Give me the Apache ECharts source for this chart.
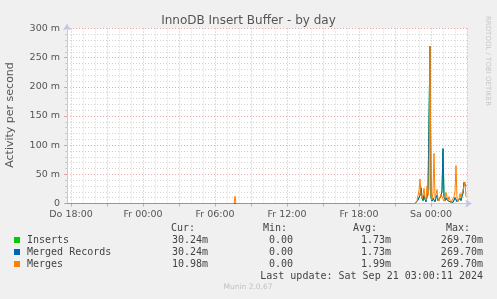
<!DOCTYPE html>
<html><head><meta charset="utf-8">
<script src="https://cdn.jsdelivr.net/npm/echarts@6/dist/echarts.min.js"></script>
<style>html,body{margin:0;padding:0;background:#f0f0f0}#c{width:497px;height:299px}</style>
</head><body><div id="c"></div><script>
// ---- text ----
const chartTitle = 'InnoDB Insert Buffer - by day';
const yAxisTitle = 'Activity per second';
const sideText = 'RRDTOOL / TOBI OETIKER';
const footerText = 'Munin 2.0.67';
const lastUpdate = 'Last update: Sat Sep 21 03:00:11 2024';

// ---- x axis (minutes since Do 00:00) ----
const xMin = 1060;   // Do 17:40
const xMax = 3060;   // Sa 03:00
const xLabelMinutes = [1080, 1440, 1800, 2160, 2520, 2880];
const xLabels = ['Do 18:00', 'Fr 00:00', 'Fr 06:00', 'Fr 12:00', 'Fr 18:00', 'Sa 00:00'];
const xMajorStep = 180; // 3 h grid
const xMinorStep = 60;  // 1 h grid

// ---- y axis ----
const yMax = 300;
const yStep = 50;

// ---- series ----
const seriesNames = ['Inserts', 'Merged Records', 'Merges'];
const seriesColors = ['#00CC00', '#0066B3', '#FF8000'];

const stepMinutes = 5;
const earlySpikeMinute = 1900;          // Fr 07:40
const earlySpikeInserts = 0;
const earlySpikeMergedRecords = 0;
const earlySpikeMerges = 12.5;

const burstStart = 2800;                // Fr 22:40, 5-min samples
const insertsBurst = [0,0,2,6,9,14,27,10,5,14,7,3,12,18,20,269.7,10,4,9,6,3,10,14,5,2,7,12,22,94,12,5,10,6,3,7,3,0,0,2,5,10,8,3,1,4,9,5,12,18,36,34,30.24];
const mergedRecordsBurst = [0,0,2,6,9,14,27,10,5,14,7,3,12,18,20,269.7,10,4,9,6,3,10,14,5,2,7,12,22,94,12,5,10,6,3,7,3,0,0,2,5,10,8,3,1,4,9,5,12,18,36,34,30.24];
const mergesBurst = [0,2,5,14,22,42,16,8,14,26,10,6,30,14,25,269.7,14,6,20,86,9,16,24,8,4,10,16,12,9,4,9,19,11,5,12,6,2,0,5,12,20,65,8,3,9,17,10,18,22,25,37,10.98];

// ---- legend stats ----
const statHeaders = ['Cur:', 'Min:', 'Avg:', 'Max:'];
const curValues = ['30.24m', '30.24m', '10.98m'];
const minValues = ['0.00', '0.00', '0.00'];
const avgValues = ['1.73m', '1.73m', '1.99m'];
const maxValues = ['269.70m', '269.70m', '269.70m'];

function buildSeries(burst, spike) {
  const pts = [[xMin, 0]];
  pts.push([earlySpikeMinute - stepMinutes, 0], [earlySpikeMinute, spike], [earlySpikeMinute + stepMinutes, 0]);
  burst.forEach((v, i) => pts.push([burstStart + i * stepMinutes, v]));
  return pts;
}
const seriesData = [
  buildSeries(insertsBurst, earlySpikeInserts),
  buildSeries(mergedRecordsBurst, earlySpikeMergedRecords),
  buildSeries(mergesBurst, earlySpikeMerges)
];

const majorTicks = [], minorTicks = [];
for (let m = xLabelMinutes[0]; m <= xMax; m += xMinorStep) {
  if ((m - xLabelMinutes[0]) % xMajorStep === 0) majorTicks.push(m); else minorTicks.push(m);
}

const GL = 67, GT = 28.5, GW = 400, GH = 175;
const mono = '"DejaVu Sans Mono", monospace';
const sans = '"DejaVu Sans", sans-serif';
const textCol = '#444';
const axisCol = '#c4c4ec';

const graphics = [];
function txt(x, y, s, align, opts) {
  graphics.push(Object.assign({
    type: 'text', x: x, y: y, silent: true,
    style: Object.assign({ text: s, fill: textCol, font: '10px ' + mono, textAlign: align, textVerticalAlign: 'middle' }, opts || {})
  }));
}
// y axis title
graphics.push({ type: 'text', x: 10, y: 115, rotation: Math.PI / 2, silent: true,
  style: { text: yAxisTitle, fill: '#555', font: '11px ' + sans, textAlign: 'center', textVerticalAlign: 'middle' } });
// side watermark
graphics.push({ type: 'text', x: 488, y: 16, rotation: -Math.PI / 2, silent: true,
  style: { text: sideText, fill: '#c8c8c8', font: '7px ' + sans, textAlign: 'left', textVerticalAlign: 'middle' } });
// legend
const headerRight = [195, 287, 377, 470];
const colRight = [208, 293, 391, 483];
statHeaders.forEach((h, i) => txt(headerRight[i], 228, h, 'right'));
seriesNames.forEach((n, r) => {
  const y = 240 + r * 12;
  graphics.push({ type: 'rect', silent: true, shape: { x: 14, y: y - 3, width: 6, height: 6 }, style: { fill: seriesColors[r] } });
  txt(27, y, n, 'left');
  [curValues, minValues, avgValues, maxValues].forEach((arr, c) => txt(colRight[c], y, arr[r], 'right'));
});
txt(483, 276, lastUpdate, 'right');
txt(248, 287, footerText, 'center', { font: '7.5px ' + sans, fill: '#c0c0c0' });

const chart = echarts.init(document.getElementById('c'), null, { renderer: 'canvas' });
chart.setOption({
  animation: false,
  backgroundColor: '#f0f0f0',
  title: { text: chartTitle, left: 'center', top: 10,
    textStyle: { fontFamily: sans, fontSize: 12, fontWeight: 'normal', color: '#555' } },
  grid: { left: GL, top: GT, width: GW, height: GH, show: true, backgroundColor: '#ffffff', borderWidth: 0, containLabel: false },
  xAxis: [{
    type: 'value', min: xMin, max: xMax, z: 0,
    axisLine: { show: true, lineStyle: { color: axisCol, width: 1 }, symbol: ['none', 'arrow'], symbolSize: [6, 7], symbolOffset: [0, 5] },
    axisTick: { show: true, customValues: majorTicks, length: 3, lineStyle: { color: '#e0a0a0' } },
    axisLabel: { show: true, customValues: xLabelMinutes, margin: 6,
      formatter: v => xLabels[xLabelMinutes.indexOf(v)] || '',
      fontFamily: sans, fontSize: 9.5, color: '#555' },
    splitLine: { show: true, lineStyle: { color: '#e8a8a8', type: [1, 2], width: 1 } }
  }, {
    type: 'value', min: xMin, max: xMax, position: 'bottom', z: 0,
    axisLine: { show: false },
    axisTick: { show: false, customValues: minorTicks },
    axisLabel: { show: false },
    splitLine: { show: true, lineStyle: { color: '#d4d4d4', type: [1, 2], width: 1 } }
  }],
  yAxis: {
    type: 'value', min: 0, max: yMax, interval: yStep, z: 0,
    axisLine: { show: true, lineStyle: { color: axisCol, width: 1 }, symbol: ['none', 'arrow'], symbolSize: [6, 7], symbolOffset: [0, 5] },
    axisTick: { show: true, length: 3, lineStyle: { color: '#e0a0a0' } },
    minorTick: { show: true, splitNumber: 5, length: 2, lineStyle: { color: '#cccccc' } },
    axisLabel: { formatter: v => v === 0 ? '0' : v + ' m', fontFamily: sans, fontSize: 9.5, color: '#555', margin: 7 },
    splitLine: { show: true, lineStyle: { color: '#e8a8a8', type: [1, 2], width: 1 } },
    minorSplitLine: { show: true, lineStyle: { color: '#d4d4d4', type: [1, 2], width: 1 } }
  },
  series: seriesNames.map((n, i) => ({
    name: n, type: 'line', data: seriesData[i], showSymbol: false, symbol: 'none',
    lineStyle: { color: seriesColors[i], width: 1 }, itemStyle: { color: seriesColors[i] },
    z: 5 + i
  })),
  graphic: graphics
});
</script></body></html>
